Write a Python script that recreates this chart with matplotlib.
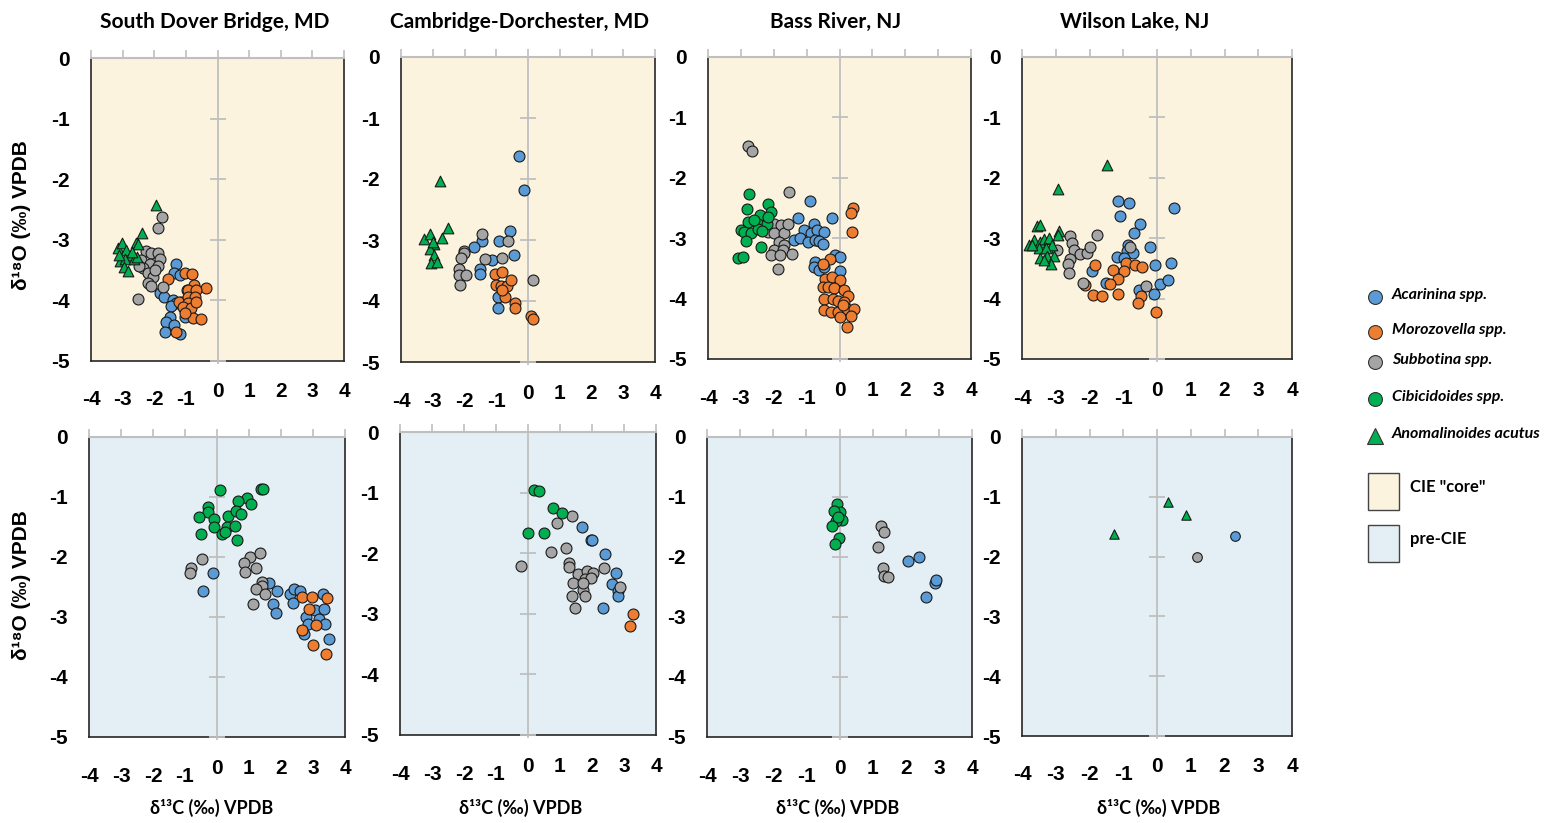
import numpy as np
import matplotlib.pyplot as plt
from matplotlib.patches import Rectangle

W, H = 1545, 823

# (d13C, d18O) pairs per site, interval and taxon
sdb_core_acarinina = [(-1.32, -3.40), (-1.36, -3.54), (-1.20, -3.58), (-1.83, -3.88), (-1.70, -3.95),
                      (-1.41, -3.99), (-1.30, -4.05), (-1.46, -4.10), (-1.14, -4.02), (-1.51, -4.27),
                      (-1.62, -4.35), (-1.36, -4.41), (-1.65, -4.52), (-1.17, -4.55), (-1.04, -4.27),
                      (-0.98, -3.83), (-1.04, -4.16)]
sdb_core_morozovella = [(-1.57, -3.65), (-1.04, -3.54), (-0.81, -3.57), (-0.35, -3.80), (-0.74, -3.75),
                        (-0.93, -3.83), (-0.67, -3.83), (-1.23, -4.02), (-0.93, -3.94), (-0.72, -3.94),
                        (-0.93, -4.05), (-1.09, -4.11), (-0.85, -4.13), (-0.77, -4.29), (-0.53, -4.30),
                        (-1.30, -4.52), (-1.04, -4.21), (-0.67, -4.02)]
sdb_core_subbotina = [(-1.76, -2.63), (-1.89, -2.80), (-2.25, -3.18), (-2.10, -3.22), (-1.89, -3.22),
                      (-1.83, -3.31), (-2.41, -3.33), (-2.15, -3.40), (-1.89, -3.43), (-2.36, -3.47),
                      (-2.20, -3.55), (-2.04, -3.61), (-2.20, -3.72), (-2.10, -3.77), (-1.73, -3.78),
                      (-2.52, -3.98), (-1.99, -3.50), (-2.47, -3.44)]
sdb_core_cibicidoides = []
sdb_core_anomalinoides = [(-1.94, -2.43), (-2.39, -2.88), (-3.16, -3.14), (-3.03, -3.05), (-2.89, -3.17),
                          (-2.59, -3.06), (-2.52, -3.07), (-2.75, -3.25), (-3.07, -3.35), (-2.92, -3.31),
                          (-2.65, -3.31), (-2.55, -3.28), (-2.96, -3.45), (-2.82, -3.51), (-3.10, -3.25),
                          (-2.71, -3.20)]

cam_core_acarinina = [(-0.29, -1.62), (-0.13, -2.18), (-0.57, -2.86), (-0.90, -3.02), (-1.45, -3.02),
                      (-1.70, -3.11), (-1.14, -3.33), (-0.43, -3.25), (-1.51, -3.47), (-1.51, -3.55),
                      (-0.96, -3.93), (-0.96, -4.11)]
cam_core_morozovella = [(-1.05, -3.55), (-0.83, -3.52), (-1.01, -3.74), (-0.85, -3.76), (-0.67, -3.76),
                        (-0.54, -3.65), (-0.72, -3.94), (-0.81, -3.82), (-0.40, -4.04), (-0.40, -4.11),
                        (0.08, -4.24), (0.15, -4.29)]
cam_core_subbotina = [(-1.45, -2.90), (-2.03, -3.18), (-2.03, -3.22), (-2.10, -3.30), (-2.17, -3.47),
                      (-2.17, -3.58), (-1.96, -3.57), (-2.14, -3.74), (-1.35, -3.31), (-0.83, -3.30),
                      (-0.64, -3.02), (0.15, -3.65)]
cam_core_cibicidoides = []
cam_core_anomalinoides = [(-2.76, -2.03), (-2.53, -2.81), (-2.71, -2.96), (-3.29, -2.99), (-3.10, -2.90),
                          (-2.97, -3.06), (-3.08, -3.14), (-2.95, -3.25), (-3.06, -3.37), (-2.87, -3.36),
                          (-2.99, -3.03)]

br_core_acarinina = [(-0.89, -2.39), (-1.27, -2.67), (-0.23, -2.67), (-0.78, -2.76), (-1.07, -2.87),
                     (-0.88, -2.92), (-0.68, -2.87), (-0.46, -2.89), (-1.37, -3.03), (-1.19, -3.00),
                     (-0.97, -3.06), (-0.76, -3.03), (-0.61, -3.04), (-0.51, -3.10), (-0.13, -3.27),
                     (0.03, -3.31), (-0.74, -3.39), (-0.78, -3.48), (-0.63, -3.53), (0.03, -3.54),
                     (-0.46, -3.47)]
br_core_morozovella = [(0.41, -2.50), (0.36, -2.59), (0.39, -2.89), (-0.30, -3.34), (-0.51, -3.43),
                       (-0.44, -3.67), (-0.22, -3.65), (0.00, -3.69), (-0.51, -3.80), (-0.36, -3.81),
                       (-0.17, -3.83), (0.15, -3.86), (0.27, -3.96), (-0.46, -4.00), (-0.20, -4.00),
                       (-0.05, -4.04), (0.15, -4.05), (-0.46, -4.19), (-0.25, -4.23), (-0.05, -4.23),
                       (0.23, -4.18), (0.44, -4.18), (0.34, -4.29), (0.03, -4.30), (0.23, -4.47),
                       (0.10, -4.11)]
br_core_subbotina = [(-2.79, -1.48), (-2.67, -1.55), (-1.53, -2.24), (-1.98, -2.76), (-1.78, -2.78),
                     (-2.18, -2.89), (-1.98, -2.92), (-1.68, -2.92), (-1.83, -3.06), (-1.68, -3.11),
                     (-1.98, -3.19), (-1.73, -3.19), (-2.08, -3.28), (-1.80, -3.28), (-1.44, -3.26),
                     (-1.86, -3.51), (-2.29, -2.78), (-1.58, -2.76)]
br_core_cibicidoides = [(-2.74, -2.27), (-2.82, -2.51), (-2.18, -2.44), (-2.08, -2.56), (-2.41, -2.62),
                        (-2.79, -2.73), (-2.49, -2.76), (-2.20, -2.76), (-3.00, -2.86), (-2.90, -2.89),
                        (-2.69, -2.92), (-2.49, -2.84), (-2.37, -2.88), (-2.85, -3.05), (-2.39, -3.15),
                        (-3.08, -3.32), (-2.95, -3.31), (-2.18, -2.65), (-2.59, -2.70)]
br_core_anomalinoides = []

wl_core_acarinina = [(-1.16, -2.39), (-0.84, -2.41), (-1.09, -2.64), (0.49, -2.50), (-0.49, -2.77),
                     (-0.69, -2.91), (-0.20, -3.15), (-0.87, -3.11), (-0.89, -3.22), (-0.72, -3.25),
                     (-1.20, -3.31), (-0.99, -3.32), (-0.07, -3.45), (0.41, -3.41), (-1.93, -3.54),
                     (-1.50, -3.74), (0.10, -3.76), (0.33, -3.70), (-0.10, -3.93), (-0.52, -3.86)]
wl_core_morozovella = [(-1.85, -3.45), (-1.30, -3.52), (-0.91, -3.41), (-0.97, -3.54), (-0.66, -3.45),
                       (-0.43, -3.48), (-1.17, -3.67), (-1.38, -3.76), (-1.91, -3.94), (-1.63, -3.96),
                       (-1.17, -3.93), (-0.46, -3.96), (-0.55, -4.08), (-0.02, -4.22), (-2.12, -3.77)]
wl_core_subbotina = [(-2.96, -3.20), (-2.57, -2.97), (-2.52, -3.08), (-1.78, -2.95), (-2.45, -3.20),
                     (-2.27, -3.26), (-2.07, -3.25), (-1.98, -3.15), (-2.59, -3.34), (-2.65, -3.42),
                     (-2.62, -3.57), (-2.19, -3.74), (-0.79, -3.14), (-0.32, -3.79)]
wl_core_cibicidoides = []
wl_core_anomalinoides = [(-1.48, -1.78), (-2.93, -2.18), (-3.56, -2.80), (-3.48, -2.78), (-2.91, -2.88),
                         (-2.94, -2.95), (-3.80, -3.11), (-3.63, -3.03), (-3.46, -3.06), (-3.34, -3.02),
                         (-3.21, -3.00), (-3.11, -3.11), (-3.51, -3.17), (-3.28, -3.17), (-3.48, -3.32),
                         (-3.26, -3.30), (-3.06, -3.30), (-3.13, -3.42), (-3.36, -3.36), (-3.70, -3.11)]

sdb_pre_acarinina = [(-0.14, -2.26), (-0.43, -2.56), (1.61, -2.44), (1.88, -2.56), (1.76, -2.78),
                     (1.85, -2.93), (2.28, -2.61), (2.42, -2.54), (2.39, -2.77), (2.58, -2.57),
                     (2.79, -3.00), (2.83, -3.12), (3.07, -2.89), (3.20, -3.03), (3.32, -2.61),
                     (3.35, -2.86), (3.38, -3.11), (3.51, -3.36), (2.71, -3.28)]
sdb_pre_morozovella = [(2.67, -2.66), (2.97, -2.66), (2.89, -2.86), (2.67, -3.21), (3.10, -3.14),
                       (2.99, -3.46), (3.44, -2.68), (3.41, -3.61)]
sdb_pre_subbotina = [(-0.46, -2.04), (-0.81, -2.19), (-0.84, -2.26), (1.04, -2.00), (1.33, -1.94),
                     (0.83, -2.10), (0.88, -2.25), (1.22, -2.19), (1.40, -2.41), (1.41, -2.49),
                     (1.22, -2.54), (1.50, -2.62), (1.14, -2.78)]
sdb_pre_cibicidoides = [(0.08, -0.89), (1.38, -0.87), (1.43, -0.87), (0.93, -1.01), (0.66, -1.06),
                        (1.05, -1.12), (-0.27, -1.16), (-0.27, -1.25), (-0.55, -1.33), (-0.10, -1.37),
                        (0.35, -1.32), (0.58, -1.23), (0.74, -1.29), (0.30, -1.50), (0.56, -1.49),
                        (-0.10, -1.50), (0.15, -1.61), (0.25, -1.58), (-0.49, -1.61), (0.64, -1.71)]
sdb_pre_anomalinoides = []

cam_pre_acarinina = [(1.68, -1.57), (1.96, -1.79), (2.01, -1.79), (2.40, -2.02), (2.75, -2.32),
                     (2.64, -2.51), (2.82, -2.63), (2.82, -2.71), (2.33, -2.90)]
cam_pre_morozovella = [(3.27, -3.00), (3.20, -3.20)]
cam_pre_subbotina = [(1.37, -1.39), (0.91, -1.50), (1.18, -1.92), (0.72, -1.98), (-0.21, -2.21),
                     (1.29, -2.16), (1.29, -2.22), (1.55, -2.35), (1.41, -2.49), (1.83, -2.30),
                     (2.02, -2.32), (1.78, -2.43), (1.96, -2.41), (1.71, -2.60), (1.78, -2.71),
                     (1.38, -2.71), (1.48, -2.91), (2.37, -2.24), (2.87, -2.55), (1.73, -2.49)]
cam_pre_cibicidoides = [(0.19, -0.95), (0.34, -0.98), (0.77, -1.26), (1.07, -1.33), (0.01, -1.67),
                        (0.51, -1.67)]
cam_pre_anomalinoides = []

br_pre_acarinina = [(2.06, -2.06), (2.39, -2.00), (2.89, -2.43), (2.92, -2.38), (2.61, -2.66)]
br_pre_morozovella = []
br_pre_subbotina = [(1.26, -1.49), (1.33, -1.58), (1.16, -1.84), (1.30, -2.19), (1.33, -2.31),
                    (1.45, -2.33)]
br_pre_cibicidoides = [(-0.08, -1.12), (0.00, -1.25), (-0.16, -1.24), (0.07, -1.38), (-0.10, -1.40),
                       (-0.23, -1.49), (-0.03, -1.68), (-0.13, -1.78), (-0.06, -1.33)]
br_pre_anomalinoides = []

wl_pre_acarinina = [(2.31, -1.65)]
wl_pre_morozovella = []
wl_pre_subbotina = [(1.19, -2.00)]
wl_pre_cibicidoides = []
wl_pre_anomalinoides = [(-1.26, -1.62), (0.33, -1.09), (0.87, -1.30)]

sites = ['South Dover Bridge, MD', 'Cambridge-Dorchester, MD', 'Bass River, NJ', 'Wilson Lake, NJ']
taxa = ['Acarinina spp.', 'Morozovella spp.', 'Subbotina spp.', 'Cibicidoides spp.', 'Anomalinoides acutus']
intervals = ['CIE "core"', 'pre-CIE']

core_data = [
    [sdb_core_acarinina, sdb_core_morozovella, sdb_core_subbotina, sdb_core_cibicidoides, sdb_core_anomalinoides],
    [cam_core_acarinina, cam_core_morozovella, cam_core_subbotina, cam_core_cibicidoides, cam_core_anomalinoides],
    [br_core_acarinina, br_core_morozovella, br_core_subbotina, br_core_cibicidoides, br_core_anomalinoides],
    [wl_core_acarinina, wl_core_morozovella, wl_core_subbotina, wl_core_cibicidoides, wl_core_anomalinoides],
]
pre_data = [
    [sdb_pre_acarinina, sdb_pre_morozovella, sdb_pre_subbotina, sdb_pre_cibicidoides, sdb_pre_anomalinoides],
    [cam_pre_acarinina, cam_pre_morozovella, cam_pre_subbotina, cam_pre_cibicidoides, cam_pre_anomalinoides],
    [br_pre_acarinina, br_pre_morozovella, br_pre_subbotina, br_pre_cibicidoides, br_pre_anomalinoides],
    [wl_pre_acarinina, wl_pre_morozovella, wl_pre_subbotina, wl_pre_cibicidoides, wl_pre_anomalinoides],
]

x_ticks = list(range(-4, 5))
y_ticks = list(range(-5, 1))

# styling
taxon_colors = ['#5B9BD5', '#ED7D31', '#A5A5A5', '#00B050', '#00B050']
taxon_markers = ['o', 'o', 'o', 'o', '^']
face_colors = ['#FBF3DE', '#E4EEF5']
AXIS_GRAY = '#BFBFBF'
TICK_FONT = ['Liberation Sans Narrow', 'Liberation Sans', 'DejaVu Sans']
LABEL_FONT = ['Lato', 'DejaVu Sans']

# panel edges in pixels: left, right, top, bottom
core_boxes = [(91, 344, 58, 361), (401, 655, 57, 362), (708, 971, 57, 359), (1022, 1292, 57, 359)]
pre_boxes = [(89, 345, 437, 737), (400, 656, 432, 735), (707, 972, 437, 737), (1022, 1292, 437, 736)]
title_x = [215, 520, 836, 1135]
xlabel_x = [212, 521, 838, 1159]

fig = plt.figure(figsize=(W / 100, H / 100), dpi=100)


def add_panel(box):
    left, right, top, bottom = box
    return fig.add_axes([left / W, 1 - bottom / H, (right - left) / W, (bottom - top) / H])


def style_panel(ax, face):
    ax.set_facecolor(face)
    ax.set_xlim(-4, 4)
    ax.set_ylim(-5, 0)
    ax.set_xticks(x_ticks)
    ax.set_yticks(y_ticks, [str(v) for v in y_ticks], fontsize=15, fontweight='bold', family=TICK_FONT)
    ax.tick_params(axis='x', bottom=False, labelbottom=False, top=True, labeltop=False,
                   direction='out', length=6, width=1.2, color=AXIS_GRAY)
    ax.tick_params(axis='y', left=False, right=False, pad=12)
    for side in ['left', 'bottom', 'right']:
        ax.spines[side].set_color('#262626')
        ax.spines[side].set_linewidth(1.2)
    ax.spines['top'].set_color(AXIS_GRAY)
    ax.spines['top'].set_linewidth(1.5)
    # vertical axis through zero with crossing ticks
    ax.plot([0, 0], [-5.04, 0], color=AXIS_GRAY, lw=1.3, clip_on=False, zorder=2.6)
    ax.plot(np.zeros(len(y_ticks) - 1), y_ticks[:-1], ls='none', marker='_', ms=11, mew=1.3,
            color=AXIS_GRAY, clip_on=False, zorder=2.6)
    # x tick labels sit below the frame, negatives a little lower
    for v in x_ticks:
        ax.annotate(str(v), xy=(v, 0), xycoords=('data', 'axes fraction'),
                    xytext=(0, -31 if v >= 0 else -39), textcoords='offset pixels',
                    ha='center', va='center', fontsize=15, fontweight='bold', family=TICK_FONT)


def plot_points(ax, groups, ms):
    for pts, color, marker in zip(groups, taxon_colors, taxon_markers):
        if not pts:
            continue
        arr = np.array(pts)
        ax.scatter(arr[:, 0], arr[:, 1], s=ms if marker == 'o' else ms * 0.95, marker=marker,
                   c=color, edgecolors='#1a1a1a', linewidths=0.8, zorder=3)


for i in range(4):
    ax = add_panel(core_boxes[i])
    style_panel(ax, face_colors[0])
    plot_points(ax, core_data[i], 62)
    fig.text(title_x[i] / W, 1 - 22 / H, sites[i], ha='center', va='center',
             fontsize=15, fontweight='bold', family=LABEL_FONT)

    ax = add_panel(pre_boxes[i])
    style_panel(ax, face_colors[1])
    plot_points(ax, pre_data[i], 62 if i < 3 else 48)
    fig.text(xlabel_x[i] / W, 1 - 808 / H, 'δ¹³C (‰) VPDB', ha='center', va='center',
             fontsize=13, fontweight='bold', family=LABEL_FONT + ['DejaVu Sans'])

for yc in [215, 585]:
    fig.text(22 / W, 1 - yc / H, 'δ¹⁸O (‰) VPDB', rotation=90, ha='center', va='center',
             fontsize=15, fontweight='bold', family=['Liberation Sans', 'DejaVu Sans'])

# legend drawn on a pixel-space overlay
leg = fig.add_axes([0, 0, 1, 1], facecolor='none')
leg.set_xlim(0, W)
leg.set_ylim(H, 0)
leg.axis('off')
legend_y = [297, 332, 362, 399, 436]
for name, color, marker, yy in zip(taxa, taxon_colors, taxon_markers, legend_y):
    leg.plot([1375], [yy], marker=marker, ms=10 if marker == 'o' else 11, color=color,
             mec='#333333', mew=0.8, ls='none')
    leg.text(1392, yy - 2, name, ha='left', va='center', fontsize=11.5, fontweight='bold',
             style='italic', family=LABEL_FONT)
for name, face, top in zip(intervals, face_colors, [473, 525]):
    leg.add_patch(Rectangle((1368, top), 31, 37, facecolor=face, edgecolor='#444444', lw=1.0))
    leg.text(1410, top + 14, name, ha='left', va='center', fontsize=12, fontweight='bold',
             family=LABEL_FONT)

plt.savefig('out.png', dpi=100)
